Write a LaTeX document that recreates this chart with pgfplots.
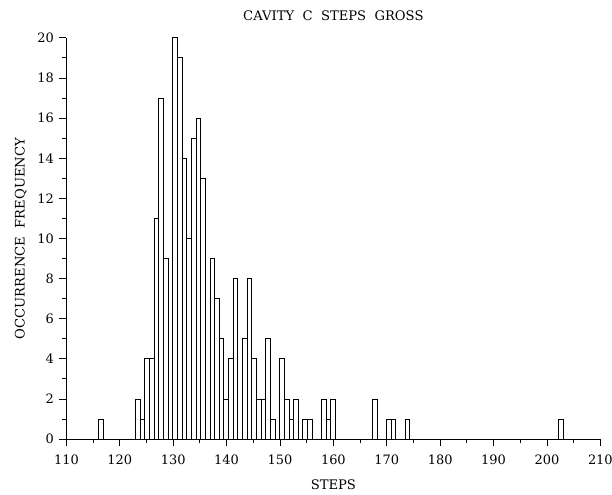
\documentclass[border=0pt]{standalone}
\usepackage{pgfplots}
\pgfplotsset{compat=1.18}
\usepackage{fontspec}
\setmainfont{DejaVu Serif}

% histogram bins: width 0.87, from 116 to 203 (100 bins), only non-empty bins listed (bin centres)
\begin{document}
\begin{tikzpicture}
\path[use as bounding box] (-66.7pt,-56pt) rectangle (548pt,441pt);
\begin{axis}[
    scale only axis,
    width=536.3pt, height=403pt,
    axis x line=bottom, axis y line=left,
    axis line style={-, line width=0.8pt},
    xmin=110, xmax=210, ymin=0, ymax=20,
    xtick={110,120,...,210}, minor xtick={115,125,...,205},
    ytick={0,2,...,20}, minor ytick={1,3,...,19},
    tick align=outside,
    major tick length=7pt, minor tick length=4pt,
    tick style={black, line width=0.8pt},
    /pgf/number format/assume math mode=true,
    ticklabel style={font=\fontsize{13}{15}\selectfont},
    xticklabel style={yshift=-5pt},
    yticklabel style={xshift=-2pt},
    title={CAVITY\ \ C\ \ STEPS\ \ GROSS},
    title style={font=\fontsize{13.2}{15}\selectfont, yshift=8pt},
    xlabel={STEPS},
    ylabel={OCCURRENCE\ \ FREQUENCY},
    label style={font=\fontsize{13.2}{15}\selectfont},
    xlabel style={yshift=-9pt},
    ylabel style={yshift=4pt},
    clip=false,
]
\addplot[ybar, bar width=0.87, bar shift=0pt, draw=black, fill=white, line width=0.8pt]
coordinates {
(116.435,1) (123.395,2) (124.265,1) (125.135,4) (126.005,4) (126.875,11)
(127.745,17) (128.615,9) (130.355,20) (131.225,19) (132.095,14) (132.965,10)
(133.835,15) (134.705,16) (135.575,13) (137.315,9) (138.185,7) (139.055,5)
(139.925,2) (140.795,4) (141.665,8) (143.405,5) (144.275,8) (145.145,4)
(146.015,2) (146.885,2) (147.755,5) (148.625,1) (150.365,4) (151.235,2)
(152.105,1) (152.975,2) (154.715,1) (155.585,1) (158.195,2) (159.065,1)
(159.935,2) (167.765,2) (170.375,1) (171.245,1) (173.855,1) (202.565,1)
};
\end{axis}
\end{tikzpicture}
\end{document}
